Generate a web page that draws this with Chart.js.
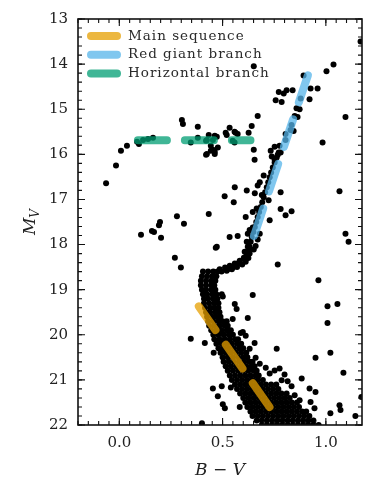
<!DOCTYPE html>
<html>
<head>
<meta charset="utf-8">
<script src="https://cdn.jsdelivr.net/npm/chart.js@4.4.1/dist/chart.umd.min.js"></script>
<style>
  html, body { margin: 0; padding: 0; background: #fff; }
  #wrap { width: 366px; height: 477px; }
</style>
</head>
<body>
<div id="wrap"><canvas id="cmd" width="366" height="477"></canvas></div>
<script>
// field stars, horizontal branch and scattered giants: [B-V, M_V]
const fieldStars = [
  [1.168,13.50],[0.651,14.05],[1.037,14.01],[1.003,14.16],[0.892,14.25],[0.757,14.80],[0.786,14.84],
  [0.772,14.62],[0.796,14.65],[0.810,14.58],[0.839,14.58],[0.926,14.54],[0.960,14.54],[0.878,14.76],
  [0.921,14.78],[0.858,14.98],[0.873,15.00],[0.849,15.15],[0.863,15.17],[0.834,15.35],[0.844,15.48],
  [0.805,15.55],[0.829,15.46],[1.095,15.17],[0.984,15.74],[0.752,15.83],[0.776,15.81],[0.781,15.96],
  [0.767,16.01],[0.733,15.92],[0.805,15.68],[0.670,15.15],[0.641,15.37],[0.651,15.90],[0.655,16.12],
  [0.626,15.52],[0.534,15.41],[0.558,15.50],[0.573,15.55],[0.549,15.70],[0.520,15.57],[0.472,15.61],
  [0.433,15.57],[0.462,15.59],[0.453,15.68],[0.424,15.68],[0.380,15.39],[0.380,15.63],[0.346,15.74],
  [0.303,15.24],[0.308,15.33],[0.443,15.81],[0.453,15.90],[0.424,15.99],[0.462,15.94],[0.477,15.85],
  [0.115,15.68],[0.086,15.72],[0.095,15.77],[0.139,15.66],[0.163,15.63],[0.008,15.92],[0.037,15.81],
  [0.738,16.05],[0.752,16.12],[-0.064,16.64],[-0.016,16.25],[0.105,17.78],[0.158,17.70],[0.168,17.72],
  [0.197,17.50],[0.192,17.57],[0.202,17.85],[0.279,17.37],[0.313,17.54],[0.433,17.32],[0.269,18.29],
  [0.298,18.51],[0.472,18.05],[0.534,17.83],[0.573,17.81],[0.510,16.93],[0.559,16.73],[0.554,17.06],
  [0.617,16.80],[0.656,16.86],[0.612,17.39],[0.646,17.28],[0.728,17.46],[0.781,16.84],[0.781,17.21],
  [0.805,17.35],[0.834,17.26],[1.066,16.82],[1.095,17.76],[1.110,17.94],[0.767,18.44],[0.964,18.79],
  [0.646,19.12],[0.568,19.43],[1.008,19.37],[1.056,19.32],[0.496,19.10],[0.680,16.62],[0.670,16.69],
  [0.699,16.47],[0.723,17.02],[0.467,18.07],[1.008,19.74],[0.762,20.31],[0.950,20.51],[1.022,20.40],
  [1.085,20.84],[0.883,20.97],[0.921,21.19],[0.950,21.27],[0.926,21.49],[0.945,21.63],[1.022,21.74],
  [1.066,21.56],[1.071,21.67],[1.143,21.80],[1.172,21.38],[0.346,20.09],[0.414,20.18],[0.457,20.40],
  [0.453,21.19],[0.496,21.14],[0.540,21.17],[0.477,21.36],[0.501,21.54],[0.511,21.63],[0.583,21.60],
  [0.400,21.96],[0.549,19.65],[0.622,19.63],[0.598,19.94],[0.501,19.15],[0.559,19.32],[0.588,19.96],
  [0.612,20.02],[0.631,20.31],[0.655,20.18],[0.660,20.51],[0.680,20.64],[0.709,20.73],[0.728,20.86],
  [0.752,20.79],[0.776,20.75],[0.800,20.88],[0.815,21.03],[0.786,21.01],[0.834,21.14],[0.849,21.34],
  [0.873,21.45],[0.420,15.70],[0.558,15.74],[0.420,16.01],[0.443,15.92],[0.462,15.99],[0.515,15.52],
  [0.563,15.52]
];

// subgiant + red giant branch ridge
const giantStars = [
  [0.486,18.55],[0.512,18.51],[0.535,18.47],[0.559,18.42],[0.583,18.36],[0.603,18.29],[0.617,18.22],
  [0.627,18.14],[0.631,18.05],[0.636,17.94],[0.641,17.83],[0.649,17.72],[0.656,17.61],[0.663,17.50],
  [0.670,17.39],[0.677,17.28],[0.685,17.17],[0.692,17.06],[0.699,16.95],[0.706,16.84],[0.714,16.73],
  [0.721,16.62],[0.728,16.51],[0.735,16.40],[0.743,16.29],[0.752,16.18],[0.762,16.07],[0.772,15.96],
  [0.525,18.55],[0.550,18.51],[0.573,18.42],[0.607,18.33],[0.631,18.20],[0.607,18.16],[0.617,17.94],
  [0.622,17.76],[0.631,17.68],[0.670,17.89],[0.680,17.76],[0.660,18.03],[0.651,18.11],[0.622,18.05],
  [0.646,17.62],[0.665,17.20],[0.690,16.90],[0.495,18.60],[0.520,18.58],[0.545,18.55],[0.570,18.50],
  [0.595,18.44],[0.612,18.38],[0.625,18.30]
];

// turnoff + main sequence, one row of B-V values per magnitude
const msMags = [18.6,18.7,18.8,18.9,19.0,19.1,19.2,19.3,19.4,19.5,19.6,19.7,19.8,19.9,20.0,20.1,20.2,
  20.3,20.4,20.5,20.6,20.7,20.8,20.9,21.0,21.1,21.2,21.3,21.4,21.5,21.6,21.7,21.8,21.9,22.0];
const msColors = [
  [0.405,0.43,0.455,0.475],
  [0.40,0.425,0.45,0.47],
  [0.395,0.42,0.445,0.465],
  [0.395,0.42,0.445,0.46],
  [0.40,0.42,0.445,0.465],
  [0.405,0.425,0.45,0.47],
  [0.41,0.43,0.455,0.475],
  [0.41,0.435,0.46,0.48],
  [0.415,0.44,0.46,0.48],
  [0.42,0.44,0.465,0.485],
  [0.425,0.45,0.47,0.49],
  [0.43,0.455,0.48,0.50,0.52],
  [0.435,0.46,0.485,0.51,0.525],
  [0.445,0.47,0.495,0.52,0.54],
  [0.455,0.48,0.505,0.53,0.55],
  [0.46,0.485,0.51,0.535,0.56,0.575],
  [0.47,0.495,0.52,0.545,0.57,0.59],
  [0.48,0.505,0.53,0.555,0.58,0.60],
  [0.49,0.515,0.54,0.565,0.59,0.615],
  [0.50,0.525,0.55,0.575,0.60,0.62],
  [0.505,0.53,0.555,0.58,0.605,0.63,0.645],
  [0.515,0.54,0.565,0.59,0.615,0.64,0.655],
  [0.525,0.55,0.575,0.60,0.625,0.65,0.665],
  [0.535,0.56,0.585,0.61,0.635,0.66,0.675],
  [0.545,0.57,0.595,0.62,0.645,0.67,0.695],
  [0.56,0.585,0.61,0.635,0.66,0.685,0.71,0.735,0.76],
  [0.57,0.595,0.62,0.645,0.67,0.695,0.72,0.745,0.77],
  [0.585,0.61,0.635,0.66,0.685,0.71,0.735,0.76,0.785,0.81],
  [0.60,0.625,0.65,0.675,0.70,0.725,0.75,0.775,0.80,0.825],
  [0.61,0.635,0.66,0.685,0.71,0.735,0.76,0.785,0.81,0.835,0.86],
  [0.62,0.645,0.67,0.695,0.72,0.745,0.77,0.795,0.82,0.845,0.87],
  [0.635,0.66,0.685,0.71,0.735,0.76,0.785,0.81,0.835,0.86,0.885,0.905],
  [0.645,0.67,0.695,0.72,0.745,0.77,0.795,0.82,0.845,0.87,0.895,0.92],
  [0.665,0.69,0.715,0.74,0.765,0.79,0.815,0.84,0.865,0.89,0.915,0.94],
  [0.69,0.715,0.74,0.765,0.79,0.815,0.84,0.865,0.89,0.915,0.94,0.965]
];

// fitted sequences
const msFitBV = [0.385, 0.73];
const msFitMV = [19.37, 21.62];
const rgbFitBV = [0.652, 0.913];
const rgbFitMV = [17.81, 14.25];
const hbFitBV = [0.09, 0.635];
const hbFitMV = [15.69, 15.69];

const xTickValues = [0.0, 0.5, 1.0];
const yTickValues = [13, 14, 15, 16, 17, 18, 19, 20, 21, 22];

const SERIF = "'DejaVu Serif', serif";
const toPoints = (xs, ys) => xs.map((x, i) => ({ x: x, y: ys[i] }));
const pairs = (list) => list.map((p) => ({ x: p[0], y: p[1] }));

const mainSeqStars = [];
msMags.forEach((mag, i) => {
  msColors[i].forEach((bv) => mainSeqStars.push({ x: bv, y: mag }));
});

const fitLine = (label, data, color) => ({
  label: label,
  data: data,
  showLine: true,
  borderColor: color,
  backgroundColor: color,
  borderWidth: 8,
  borderDash: [29, 18],
  borderCapStyle: "round",
  pointRadius: 0,
  fill: false,
  clip: false
});

const starSet = (data) => ({
  data: data,
  backgroundColor: "#000",
  borderWidth: 0,
  pointRadius: 3
});

const decorations = {
  id: "decorations",
  afterDraw(chart) {
    const { ctx, chartArea: a, scales } = chart;
    const xs = scales.x, ys = scales.y;
    ctx.save();

    // inward ticks on all four sides
    ctx.strokeStyle = "#111";
    ctx.lineWidth = 1.1;
    const tickX = (v, len) => {
      const px = xs.getPixelForValue(v);
      ctx.beginPath();
      ctx.moveTo(px, a.bottom); ctx.lineTo(px, a.bottom - len);
      ctx.moveTo(px, a.top); ctx.lineTo(px, a.top + len);
      ctx.stroke();
    };
    const tickY = (v, len) => {
      const py = ys.getPixelForValue(v);
      ctx.beginPath();
      ctx.moveTo(a.left, py); ctx.lineTo(a.left + len, py);
      ctx.moveTo(a.right, py); ctx.lineTo(a.right - len, py);
      ctx.stroke();
    };
    for (let i = -4; i * 0.05 <= xs.max + 1e-9; i++) tickX(i * 0.05, 4);
    for (let i = 0; 13 + i * 0.2 <= 22 + 1e-9; i++) tickY(13 + i * 0.2, 4);
    xTickValues.forEach((v) => tickX(v, 7));
    yTickValues.forEach((v) => tickY(v, 7));

    // frame
    ctx.lineWidth = 1.6;
    ctx.strokeRect(a.left, a.top, a.right - a.left, a.bottom - a.top);

    // legend
    ctx.font = "13.5px " + SERIF;
    ctx.letterSpacing = "1px";
    ctx.textBaseline = "middle";
    ctx.textAlign = "left";
    ctx.fillStyle = "#2a2a2a";
    let ly = a.top + 17;
    chart.data.datasets.filter((d) => d.label).forEach((d) => {
      ctx.strokeStyle = d.borderColor;
      ctx.lineWidth = 8;
      ctx.lineCap = "round";
      ctx.beginPath();
      ctx.moveTo(a.left + 13, ly);
      ctx.lineTo(a.left + 39, ly);
      ctx.stroke();
      ctx.fillText(d.label, a.left + 50, ly);
      ly += 18.7;
    });
    ctx.letterSpacing = "0px";

    // axis titles
    ctx.fillStyle = "#222";
    ctx.textBaseline = "alphabetic";
    const cx = (a.left + a.right) / 2;
    ctx.font = "italic 17px " + SERIF;
    const wB = ctx.measureText("B").width, wV = ctx.measureText("V").width;
    ctx.font = "17px " + SERIF;
    const wMinus = ctx.measureText(" \u2212 ").width;
    let tx = cx - (wB + wMinus + wV) / 2;
    ctx.font = "italic 17px " + SERIF;
    ctx.fillText("B", tx, 475);
    ctx.font = "17px " + SERIF;
    ctx.fillText(" \u2212 ", tx + wB, 475);
    ctx.font = "italic 17px " + SERIF;
    ctx.fillText("V", tx + wB + wMinus, 475);

    const cy = (a.top + a.bottom) / 2;
    ctx.translate(35, cy);
    ctx.rotate(-Math.PI / 2);
    ctx.font = "italic 17px " + SERIF;
    const wM = ctx.measureText("M").width;
    ctx.font = "italic 12px " + SERIF;
    const wSub = ctx.measureText("V").width;
    const sx = -(wM + wSub) / 2;
    ctx.font = "italic 17px " + SERIF;
    ctx.fillText("M", sx, 0);
    ctx.font = "italic 12px " + SERIF;
    ctx.fillText("V", sx + wM, 4);
    ctx.restore();
  }
};

new Chart(document.getElementById("cmd"), {
  type: "scatter",
  data: {
    datasets: [
      fitLine("Main sequence", toPoints(msFitBV, msFitMV), "rgba(230, 159, 0, 0.75)"),
      fitLine("Red giant branch", toPoints(rgbFitBV, rgbFitMV), "rgba(86, 180, 233, 0.75)"),
      fitLine("Horizontal branch", toPoints(hbFitBV, hbFitMV), "rgba(0, 158, 115, 0.75)"),
      starSet(pairs(fieldStars)),
      starSet(pairs(giantStars)),
      starSet(mainSeqStars)
    ]
  },
  options: {
    responsive: false,
    animation: false,
    devicePixelRatio: 1,
    events: [],
    layout: { padding: { top: 11, right: 4, left: 0, bottom: 0 } },
    plugins: { legend: { display: false }, tooltip: { enabled: false } },
    scales: {
      x: {
        type: "linear",
        min: -0.2,
        max: 1.175,
        grid: { display: false, drawTicks: false },
        border: { display: false },
        afterBuildTicks: (s) => { s.ticks = xTickValues.map((v) => ({ value: v })); },
        afterFit: (s) => { s.height = 52; },
        ticks: {
          padding: 9,
          color: "#222",
          font: { family: SERIF, size: 15 },
          callback: (v) => Number(v).toFixed(1)
        }
      },
      y: {
        type: "linear",
        reverse: true,
        min: 13,
        max: 22,
        grid: { display: false, drawTicks: false },
        border: { display: false },
        afterBuildTicks: (s) => { s.ticks = yTickValues.map((v) => ({ value: v })); },
        afterFit: (s) => { s.width = 78; },
        ticks: {
          padding: 10,
          color: "#222",
          font: { family: SERIF, size: 15 },
          callback: (v) => String(v)
        }
      }
    }
  },
  plugins: [decorations]
});
</script>
</body>
</html>
